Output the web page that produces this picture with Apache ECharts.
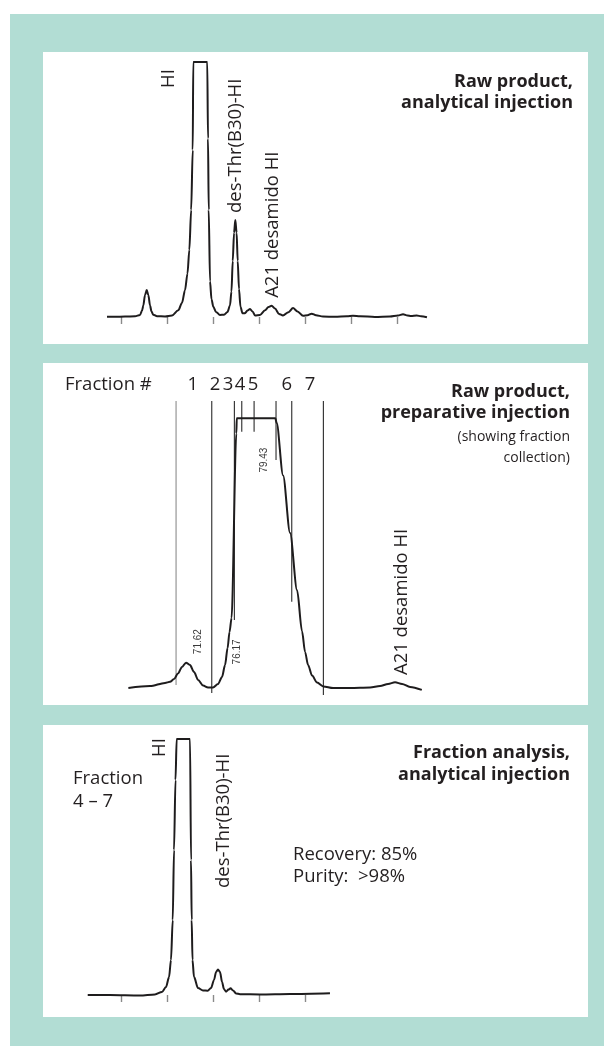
<!DOCTYPE html>
<html><head><meta charset="utf-8">
<script src="https://cdn.jsdelivr.net/npm/echarts@6.0.0/dist/echarts.min.js"></script>
<style>html,body{margin:0;padding:0;background:#fff;}#c{width:604px;height:1046px;}</style>
</head><body><div id="c"></div>
<script>
// ---------- DATA ----------
// Panel 1: raw product, analytical injection (x: time units, y: signal, detector saturates at 100)
const ticksAnalytical = [5, 10, 15, 20, 25, 30, 35];
const rawAnalytical = [
  [3.40,0.1],[4.27,0.1],[5.36,0.15],[6.45,0.3],[6.99,0.8],[7.21,2.5],[7.35,4.5],[7.53,8.5],[7.72,10.6],[7.90,8.5],[8.08,4.5],[8.24,2.2],[8.43,0.9],[8.84,0.3],
  [9.71,0.2],[10.47,0.6],[11.15,2.6],[11.55,5.5],[11.88,10.5],[12.15,17],[12.35,26.3],[12.55,42],[12.72,65.5],[12.78,100],[14.30,100],[14.38,70],[14.46,42],[14.60,14],[14.76,7],[14.96,4],[15.25,2],[15.68,0.8],
  [16.12,0.9],[16.50,2],[16.77,4.5],[16.93,10],[17.07,22],[17.21,33],[17.35,38],[17.49,33],[17.61,22],[17.75,11],[17.91,4],[18.13,1.5],
  [18.40,1.5],[18.67,2.5],[18.95,3.1],[19.22,2.2],[19.49,0.6],[20.03,0.8],[20.58,2.6],[20.96,3.9],[21.30,4.4],[21.66,3.3],[22.10,1.2],[22.53,0.6],
  [23.13,1.9],[23.62,3.5],[24.11,2.2],[24.71,0.5],[25.20,0.7],[25.65,1.3],[26.12,0.7],[26.88,0.2],[28.18,0.05],[29.49,0.3],[30.14,0.5],[30.90,0.3],
  [32.53,0.0],[34.16,0.2],[35.03,0.6],[35.58,1.1],[36.07,0.6],[36.45,0.4],[37.07,0.6],[37.53,0.3],[38.18,-0.1]
];
const peakNamesAnalytical = ['HI', 'des-Thr(B30)-HI', 'A21 desamido HI'];
const peakLabelXAnalytical = [10.12, 17.42, 21.45];
const peakLabelYAnalytical = [89.8, 40.8, 7.5];

// Panel 2: raw product, preparative injection (x: retention time, min)
const rawPreparative = [
  [63.42,0],[65.97,0.7],[67.73,1.9],[68.32,2.3],[68.79,3.3],[69.26,5.4],[69.73,7.8],[70.20,9.4],[70.67,8.5],[71.15,5.9],[71.62,3.0],[72.21,0.9],[72.79,0.2],
  [73.38,0.2],[73.97,1.5],[74.44,4.1],[74.79,8.5],[75.09,14.8],[75.32,20.8],[75.56,26],[76.12,94.4],[76.17,100],[76.24,100],[80.72,100],[80.79,100],
  [80.86,98.3],[81.62,78.8],[82.44,57.5],[83.27,36.2],[83.85,21.0],[84.21,13.3],[84.56,8.5],[85.03,4.6],[85.62,2.0],[86.36,0.6],[87.50,0],
  [89.50,0],[91.85,0.2],[93.03,0.7],[93.97,1.5],[94.79,2.1],[95.62,1.5],[96.56,0.4],[97.94,-0.7]
];
const fractionBounds = [69.03, 73.23, 75.89, 76.76, 78.21, 80.79, 82.64, 86.36];
const fractionLineEnds = [1.1, -1.85, 25.2, 95.0, 95.0, 84.5, 32, -2.6];
const fractionLineTop = 106.4;
const fractionNumbers = ['1', '2', '3', '4', '5', '6', '7'];
const fractionNumberX = [70.99, 73.62, 75.15, 76.56, 78.09, 82.05, 84.79];
const retentionTimes = [71.62, 76.17, 79.43];
const retentionLabelY = [17.2, 13.4, 84.5];
const prepPeakName = 'A21 desamido HI';
const prepPeakLabelX = 95.58, prepPeakLabelY = 4.8;

// Panel 3: fraction 4-7 analysis, analytical injection
const ticksFraction = [5, 10, 15, 20, 25];
const fractionAnalysis = [
  [1.36,0],[3.78,0],[7.04,-0.2],[8.67,0.2],[9.43,1.2],[9.87,3.1],[10.2,7],[10.41,13.7],[10.60,29.3],[10.74,56.6],[10.90,84],[11.03,100],[12.48,100],
  [12.59,52.7],[12.66,29.3],[12.75,13.7],[12.91,7.1],[13.35,2.7],[13.89,1.8],[14.40,1.7],[14.76,2.7],[15.09,5.9],[15.31,9],[15.52,10],[15.74,9],[15.96,5.1],[16.17,2.3],
  [16.39,1.3],[16.66,2.1],[16.88,2.6],[17.15,1.8],[17.48,0.6],[17.91,0.3],[20.08,0.2],[23.35,0.4],[27.69,0.7]
];
const peakNamesFraction = ['HI', 'des-Thr(B30)-HI'];
const peakLabelXFraction = [9.22, 16.1];
const peakLabelYFraction = [93, 41.8];

// ---------- STYLE ----------
const INK = '#1e1c1d';
const TEXT = '#231f20';
const TEAL = '#b2ddd4';
const FONT = '"Open Sans"';
const REG = '18.5px ' + FONT;
const BOLD = 'bold 18px ' + FONT;
const SUB = '14px ' + FONT;
const chart = echarts.init(document.getElementById('c'), null, {renderer: 'canvas'});

function tickAxis(grid, min, max, ticks) {
  return {type: 'value', gridIndex: grid, min, max, axisLine: {show: false}, splitLine: {show: false},
    axisLabel: {show: false},
    axisTick: {show: ticks.length > 0, customValues: ticks, length: 7, inside: false, lineStyle: {color: '#8a8a8a', width: 1.4}}};
}
function hiddenY(grid, min, max) {
  return {type: 'value', gridIndex: grid, min, max, show: false, splitLine: {show: false}};
}
function curve(idx, data) {
  return {type: 'line', xAxisIndex: idx, yAxisIndex: idx, data, symbol: 'none', showSymbol: false,
    smooth: 0.3, smoothMonotone: 'x', lineStyle: {color: INK, width: 2}, silent: true, z: 3};
}

const series = [curve(0, rawAnalytical), curve(1, rawPreparative), curve(2, fractionAnalysis)];
fractionBounds.forEach((x, i) => {
  series.push({type: 'line', xAxisIndex: 1, yAxisIndex: 1, data: [[x, fractionLineTop], [x, fractionLineEnds[i]]],
    symbol: 'none', silent: true, z: 2, lineStyle: {color: i === 0 ? '#8c8c8c' : '#2a2a2a', width: 1.1}});
});

chart.setOption({
  animation: false,
  grid: [
    {left: 106.98, width: 320.16, top: 60.7, height: 263.3},
    {left: 128.2, width: 293.7, top: 391.3, height: 304.8},
    {left: 87.16, width: 242.9, top: 737.7, height: 263.3}
  ],
  xAxis: [tickAxis(0, 3.4, 38.2, ticksAnalytical), tickAxis(1, 63.4, 97.95, []), tickAxis(2, 1.3, 27.7, ticksFraction)],
  yAxis: [hiddenY(0, -2.745, 100.5), hiddenY(1, -3, 110), hiddenY(2, -2.35, 100.5)],
  series
});

// ---------- TEXT & PANELS ----------
const g = [];
g.push({type: 'rect', shape: {x: 10, y: 14, width: 594, height: 1032}, style: {fill: TEAL}, z: -20, silent: true});
[[52, 292], [363, 342], [725, 292]].forEach(([y, h]) => g.push({type: 'rect', shape: {x: 43, y, width: 545, height: h}, style: {fill: '#fff'}, z: -19, silent: true}));

function txt(text, x, y, opts) {
  opts = opts || {};
  g.push({type: 'text', x, y, rotation: opts.rot || 0, z: 5, silent: true,
    style: {text, fill: opts.fill || TEXT, font: opts.font || REG,
      textAlign: opts.align || 'left', textVerticalAlign: 'middle'}});
}
const p = (gi, x, y) => chart.convertToPixel({gridIndex: gi}, [x, y]);
const ROT = Math.PI / 2;

// Panel 1
peakNamesAnalytical.forEach((t, i) => { const q = p(0, peakLabelXAnalytical[i], peakLabelYAnalytical[i]); txt(t, q[0], q[1], {rot: ROT}); });
txt('Raw product,', 573, 82, {align: 'right', font: BOLD});
txt('analytical injection', 573, 103, {align: 'right', font: BOLD});

// Panel 2
txt('Fraction #', 65, 385);
fractionNumbers.forEach((t, i) => { const q = p(1, fractionNumberX[i], 0); txt(t, q[0], 385, {align: 'center'}); });
retentionTimes.forEach((t, i) => { const q = p(1, t, retentionLabelY[i]); txt(t.toFixed(2), q[0], q[1], {rot: ROT, align: 'center', font: '10px "Liberation Sans"', fill: '#3a3a3a'}); });
{ const q = p(1, prepPeakLabelX, prepPeakLabelY); txt(prepPeakName, q[0], q[1], {rot: ROT}); }
txt('Raw product,', 570, 391.7, {align: 'right', font: BOLD});
txt('preparative injection', 570, 413.3, {align: 'right', font: BOLD});
txt('(showing fraction', 570, 436.7, {align: 'right', font: SUB});
txt('collection)', 570, 457.7, {align: 'right', font: SUB});

// Panel 3
peakNamesFraction.forEach((t, i) => { const q = p(2, peakLabelXFraction[i], peakLabelYFraction[i]); txt(t, q[0], q[1], {rot: ROT}); });
txt('Fraction', 73, 779);
txt('4 \u2013 7', 73, 801.7);
txt('Recovery: 85%', 293, 855);
txt('Purity:  >98%', 293, 876.7);
txt('Fraction analysis,', 570, 753, {align: 'right', font: BOLD});
txt('analytical injection', 570, 775, {align: 'right', font: BOLD});

chart.setOption({graphic: g});
</script></body></html>
